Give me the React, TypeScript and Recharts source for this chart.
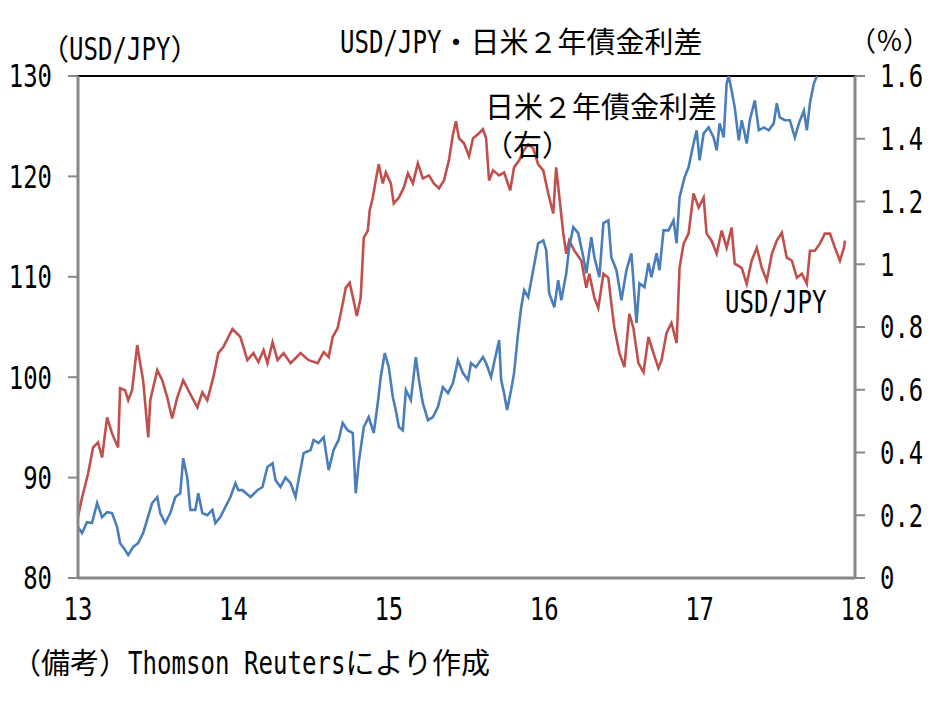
import React from 'react'
import { LineChart, Line, XAxis, YAxis, ReferenceLine } from 'recharts'

// USD/JPY (left axis), x = year (13 = 2013)
const usdJpyDates = [
  13.0, 13.026, 13.065, 13.097, 13.129, 13.155, 13.187, 13.219, 13.258, 13.271,
  13.303, 13.323, 13.348, 13.381, 13.4, 13.419, 13.452, 13.465, 13.51, 13.542,
  13.574, 13.606, 13.639, 13.677, 13.71, 13.768, 13.8, 13.832, 13.871, 13.903,
  13.935, 13.994, 14.045, 14.09, 14.129, 14.161, 14.194, 14.219, 14.252, 14.284,
  14.323, 14.368, 14.432, 14.484, 14.542, 14.581, 14.613, 14.639, 14.671, 14.703,
  14.723, 14.748, 14.774, 14.794, 14.819, 14.839, 14.865, 14.877, 14.897, 14.916,
  14.935, 14.961, 14.981, 15.013, 15.032, 15.065, 15.097, 15.123, 15.155, 15.187,
  15.219, 15.258, 15.29, 15.323, 15.355, 15.387, 15.413, 15.432, 15.452, 15.484,
  15.516, 15.542, 15.574, 15.606, 15.626, 15.645, 15.671, 15.71, 15.742, 15.781,
  15.806, 15.839, 15.865, 15.897, 15.929, 15.961, 15.994, 16.026, 16.058, 16.077,
  16.123, 16.142, 16.161, 16.194, 16.239, 16.271, 16.29, 16.323, 16.348, 16.381,
  16.413, 16.432, 16.452, 16.484, 16.516, 16.548, 16.574, 16.606, 16.639, 16.671,
  16.703, 16.735, 16.755, 16.787, 16.819, 16.852, 16.871, 16.897, 16.929, 16.961,
  16.994, 17.026, 17.045, 17.077, 17.11, 17.142, 17.174, 17.206, 17.226, 17.271,
  17.303, 17.335, 17.368, 17.4, 17.432, 17.465, 17.497, 17.529, 17.561, 17.594,
  17.626, 17.658, 17.69, 17.71, 17.742, 17.774, 17.806, 17.839, 17.871, 17.903,
  17.929, 17.935,
]
const usdJpyValues = [
  86.1, 88.0, 90.4, 93.0, 93.5, 92.0, 96.0, 94.4, 93.0, 98.9,
  98.7, 97.7, 98.7, 103.2, 101.4, 99.7, 94.0, 97.7, 100.7, 99.7,
  98.0, 95.9, 98.0, 99.7, 98.7, 97.0, 98.5, 97.7, 100.0, 102.4,
  103.0, 104.8, 104.0, 101.7, 102.4, 101.5, 102.7, 101.4, 103.5, 101.7,
  102.4, 101.4, 102.4, 101.7, 101.4, 102.5, 102.0, 104.0, 104.9, 107.3,
  108.9, 109.4, 107.6, 106.1, 107.9, 113.9, 114.6, 116.6, 117.9, 119.6,
  121.2, 119.3, 120.4, 119.3, 117.3, 117.9, 118.9, 120.3, 119.3, 121.3,
  119.8, 120.1, 119.3, 118.8, 119.6, 121.6, 124.2, 125.5, 123.8, 123.3,
  122.0, 123.8, 124.2, 124.7, 123.8, 119.6, 120.6, 120.1, 120.4, 118.6,
  120.9, 121.6, 122.5, 123.2, 122.8, 121.2, 120.6, 118.3, 116.3, 120.9,
  114.3, 112.3, 113.6, 112.6, 111.6, 108.9, 110.3, 107.9, 106.9, 110.3,
  109.9, 107.3, 104.9, 102.4, 101.0, 106.3, 104.9, 101.4, 100.5, 104.0,
  102.4, 100.9, 101.7, 104.4, 105.4, 103.4, 110.9, 113.3, 114.3, 118.3,
  116.9, 117.9, 114.3, 113.6, 112.3, 114.6, 112.9, 114.9, 111.3, 110.9,
  109.3, 111.6, 112.9, 110.9, 109.6, 112.3, 113.6, 114.4, 111.9, 111.6,
  109.9, 110.3, 109.3, 112.6, 112.6, 113.3, 114.3, 114.3, 112.9, 111.6,
  112.9, 113.6,
]

// 日米2年債金利差 (right axis, %)
const spreadDates = [
  13.0, 13.026, 13.058, 13.09, 13.123, 13.155, 13.187, 13.219, 13.252, 13.271,
  13.303, 13.323, 13.355, 13.387, 13.419, 13.445, 13.477, 13.51, 13.529, 13.561,
  13.594, 13.626, 13.658, 13.677, 13.703, 13.723, 13.755, 13.774, 13.8, 13.832,
  13.865, 13.884, 13.916, 13.948, 13.981, 14.013, 14.032, 14.058, 14.11, 14.155,
  14.187, 14.219, 14.252, 14.271, 14.303, 14.335, 14.368, 14.4, 14.419, 14.452,
  14.497, 14.516, 14.548, 14.581, 14.613, 14.645, 14.677, 14.703, 14.735, 14.768,
  14.787, 14.806, 14.839, 14.871, 14.903, 14.929, 14.948, 14.974, 15.0, 15.026,
  15.045, 15.065, 15.09, 15.11, 15.142, 15.174, 15.194, 15.219, 15.252, 15.284,
  15.316, 15.348, 15.381, 15.413, 15.445, 15.477, 15.51, 15.529, 15.561, 15.606,
  15.626, 15.658, 15.677, 15.71, 15.723, 15.742, 15.761, 15.787, 15.806, 15.832,
  15.852, 15.871, 15.897, 15.929, 15.961, 15.994, 16.013, 16.032, 16.065, 16.09,
  16.11, 16.142, 16.161, 16.187, 16.219, 16.252, 16.271, 16.303, 16.323, 16.355,
  16.381, 16.413, 16.432, 16.465, 16.497, 16.529, 16.561, 16.594, 16.613, 16.645,
  16.671, 16.69, 16.723, 16.742, 16.768, 16.8, 16.832, 16.852, 16.871, 16.903,
  16.929, 16.961, 16.981, 17.0, 17.026, 17.058, 17.09, 17.11, 17.129, 17.155,
  17.174, 17.187, 17.206, 17.226, 17.252, 17.271, 17.29, 17.303, 17.323, 17.355,
  17.381, 17.413, 17.445, 17.477, 17.497, 17.516, 17.548, 17.581, 17.613, 17.639,
  17.671, 17.69, 17.71, 17.735, 17.755,
]
const spreadValues = [
  0.162, 0.143, 0.178, 0.175, 0.239, 0.194, 0.21, 0.207, 0.162, 0.111,
  0.089, 0.073, 0.099, 0.111, 0.143, 0.185, 0.239, 0.258, 0.207, 0.175,
  0.207, 0.258, 0.27, 0.382, 0.32, 0.217, 0.217, 0.27, 0.207, 0.2,
  0.217, 0.175, 0.194, 0.226, 0.258, 0.302, 0.28, 0.28, 0.258, 0.28,
  0.29, 0.354, 0.366, 0.312, 0.29, 0.32, 0.302, 0.258, 0.312, 0.398,
  0.408, 0.44, 0.43, 0.449, 0.344, 0.408, 0.44, 0.494, 0.471, 0.462,
  0.27, 0.366, 0.481, 0.513, 0.462, 0.557, 0.64, 0.717, 0.672, 0.576,
  0.535, 0.481, 0.471, 0.599, 0.567, 0.704, 0.631, 0.557, 0.503, 0.513,
  0.545, 0.608, 0.589, 0.621, 0.694, 0.653, 0.631, 0.685, 0.672, 0.704,
  0.685, 0.64, 0.685, 0.758, 0.631, 0.589, 0.535, 0.599, 0.653, 0.78,
  0.863, 0.917, 0.895, 0.981, 1.067, 1.076, 1.045, 0.908, 0.863, 0.949,
  0.885, 0.971, 1.054, 1.118, 1.099, 1.022, 0.971, 1.086, 1.022, 0.959,
  1.131, 1.14, 1.022, 0.981, 0.885, 0.981, 1.035, 0.812, 0.939, 0.927,
  1.003, 0.959, 1.035, 0.981, 1.108, 1.108, 1.14, 1.067, 1.213, 1.277,
  1.309, 1.385, 1.427, 1.331, 1.417, 1.436, 1.404, 1.363, 1.449, 1.404,
  1.576, 1.6, 1.554, 1.5, 1.395, 1.459, 1.417, 1.385, 1.459, 1.522,
  1.427, 1.436, 1.427, 1.449, 1.513, 1.468, 1.459, 1.459, 1.404, 1.449,
  1.49, 1.427, 1.513, 1.576, 1.6,
]

const xTicks = [13, 14, 15, 16, 17, 18]
const leftTicks = [80, 90, 100, 110, 120, 130]
const rightTicks = [0, 0.2, 0.4, 0.6, 0.8, 1, 1.2, 1.4, 1.6]

const usdJpyData = usdJpyDates.map((d, i) => ({ date: d, usdJpy: usdJpyValues[i] }))
const spreadData = spreadDates.map((d, i) => ({ date: d, spread: spreadValues[i] }))

const MONO = "'DejaVu Sans Mono', 'Liberation Mono', monospace"
const CJK = "'Noto Sans CJK JP', sans-serif"
const AXIS_GRAY = '#878787'
const RED = '#C0504D'
const BLUE = '#4A7EBB'

// half-width glyphs are drawn in a mono font squeezed to half an em
const TICK_SIZE = 31.5
const squeeze = (cell: number, size: number) => cell / (0.602 * size)

const makeTick = (anchor: 'start' | 'middle' | 'end', dy: string) => (props: any) => {
  const { x, y, payload } = props
  return (
    <text
      transform={`translate(${x},${y}) scale(${squeeze(14.4, TICK_SIZE)},1)`}
      textAnchor={anchor}
      dy={dy}
      fontFamily={MONO}
      fontSize={TICK_SIZE}
      fill="#000">
      {String(payload.value)}
    </text>
  )
}

type Part = { t: string; cjk?: boolean }

// lays out a mix of full-width (1em) and half-width (0.5em) text like the original
const Mixed = ({ left, top, size, parts }: { left: number; top: number; size: number; parts: Part[] }) => {
  const latinSize = size * 1.08
  return (
    <div
      style={{
        position: 'absolute',
        left,
        top,
        display: 'flex',
        alignItems: 'baseline',
        lineHeight: 1,
        whiteSpace: 'pre',
        color: '#000',
      }}>
      {parts.map((p, i) =>
        p.cjk ? (
          <span
            key={i}
            style={{ fontFamily: CJK, fontSize: size, display: 'inline-block', width: size * p.t.length }}>
            {p.t}
          </span>
        ) : (
          <span key={i} style={{ display: 'inline-block', width: size * 0.5 * p.t.length }}>
            <span
              style={{
                display: 'inline-block',
                fontFamily: MONO,
                fontSize: latinSize,
                transform: `scaleX(${squeeze(size * 0.5, latinSize)})`,
                transformOrigin: 'left',
              }}>
              {p.t}
            </span>
          </span>
        ),
      )}
    </div>
  )
}

export default function App() {
  return (
    <div
      style={{
        position: 'absolute',
        left: 0,
        top: 0,
        width: 934,
        height: 701,
        background: '#fff',
      }}>
      <LineChart
        width={934}
        height={701}
        margin={{ top: 76, right: 0, bottom: 83, left: 0 }}>
        <XAxis
          dataKey="date"
          type="number"
          domain={[13, 18]}
          ticks={xTicks}
          height={40}
          tickLine={false}
          tickSize={0}
          tickMargin={19}
          tick={makeTick('middle', '0.73em')}
          axisLine={{ stroke: AXIS_GRAY, strokeWidth: 3 }}
        />
        <YAxis
          yAxisId="left"
          domain={[80, 130]}
          ticks={leftTicks}
          width={78}
          tickSize={10}
          tickMargin={16}
          tick={makeTick('end', '0.36em')}
          axisLine={{ stroke: AXIS_GRAY, strokeWidth: 3 }}
          tickLine={{ stroke: AXIS_GRAY, strokeWidth: 2 }}
        />
        <YAxis
          yAxisId="right"
          orientation="right"
          domain={[0, 1.6]}
          allowDataOverflow
          ticks={rightTicks}
          width={79}
          tickSize={10}
          tickMargin={15}
          tick={makeTick('start', '0.36em')}
          axisLine={{ stroke: AXIS_GRAY, strokeWidth: 3 }}
          tickLine={{ stroke: AXIS_GRAY, strokeWidth: 2 }}
        />
        <ReferenceLine yAxisId="left" y={130} stroke="#000" strokeWidth={2} />
        <Line
          yAxisId="left"
          data={usdJpyData}
          dataKey="usdJpy"
          type="linear"
          stroke={RED}
          strokeWidth={2.6}
          dot={false}
          isAnimationActive={false}
        />
        <Line
          yAxisId="right"
          data={spreadData}
          dataKey="spread"
          type="linear"
          stroke={BLUE}
          strokeWidth={2.6}
          dot={false}
          isAnimationActive={false}
        />
      </LineChart>
      <Mixed left={340} top={26} size={29} parts={[{ t: 'USD/JPY' }, { t: '・日米２年債金利差', cjk: true }]} />
      <Mixed left={40} top={33} size={29} parts={[{ t: '（', cjk: true }, { t: 'USD/JPY' }, { t: '）', cjk: true }]} />
      <Mixed left={849} top={26} size={27} parts={[{ t: '（％）', cjk: true }]} />
      <Mixed left={485} top={91} size={29} parts={[{ t: '日米２年債金利差', cjk: true }]} />
      <Mixed left={484} top={129} size={29} parts={[{ t: '（右）', cjk: true }]} />
      <Mixed left={725} top={287} size={29} parts={[{ t: 'USD/JPY' }]} />
      <Mixed
        left={12}
        top={647}
        size={29}
        parts={[{ t: '（備考）', cjk: true }, { t: 'Thomson Reuters' }, { t: 'により作成', cjk: true }]}
      />
    </div>
  )
}
